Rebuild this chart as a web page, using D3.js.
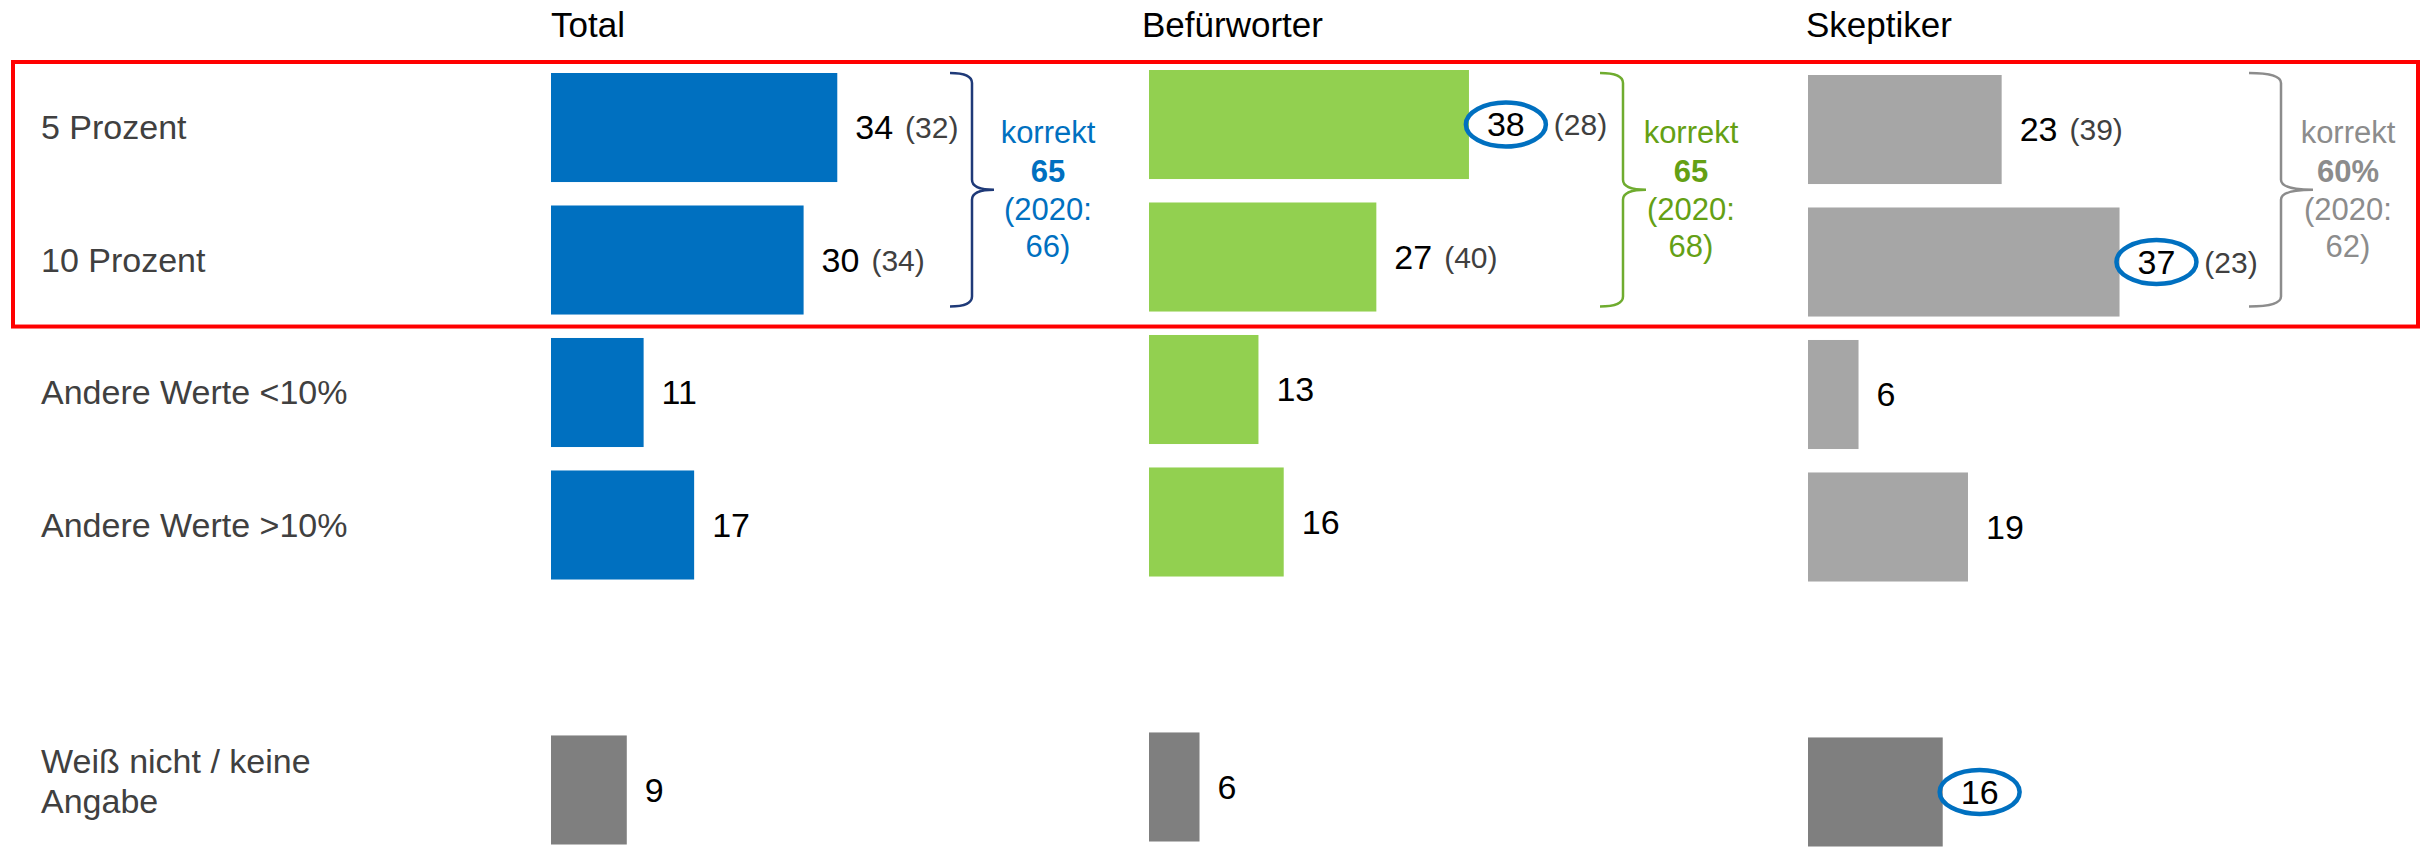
<!DOCTYPE html>
<html>
<head>
<meta charset="utf-8">
<script src="https://cdn.jsdelivr.net/npm/d3@7"></script>
<style>
  body { margin: 0; background: #fff; }
  text { font-family: "Liberation Sans", Arial, sans-serif; }
</style>
</head>
<body>
<div id="chart"></div>
<script>
// data
const categories = ["5 Prozent", "10 Prozent", "Andere Werte <10%", "Andere Werte >10%", "Weiß nicht / keine Angabe"];
const slots = [0, 1, 2, 3, 5]; // one empty slot before "Weiß nicht"
const groups = ["Total", "Befürworter", "Skeptiker"];
const totalValues = [34, 30, 11, 17, 9];
const befuerworterValues = [38, 27, 13, 16, 6];
const skeptikerValues = [23, 37, 6, 19, 16];
const totalPrev = [32, 34];
const befuerworterPrev = [28, 40];
const skeptikerPrev = [39, 23];
const correctShare = ["65", "65", "60%"];
const correct2020 = ["66", "68", "62"];
const circled = [[], ["5 Prozent"], ["10 Prozent", "Weiß nicht / keine Angabe"]];

const seriesValues = [totalValues, befuerworterValues, skeptikerValues];
const seriesPrev = [totalPrev, befuerworterPrev, skeptikerPrev];

// layout
const width = 2433, height = 848;
const colX = [551, 1149, 1808];
const colDy = [0, -3, 2];
const titleX = [551, 1142, 1806];
const bracketX = [972, 1623, 2281];
const bracketW = [22, 23, 32];
const noteX = [1048, 1691, 2348];
const barColors = ["#0070C0", "#92D050", "#A6A6A6"];
const noteColors = ["#0070C0", "#64A014", "#8C8C8C"];
const braceColors = ["#1F3A78", "#6FAC2F", "#8C8C8C"];
const unknownColor = "#7F7F7F";

const svg = d3.select("#chart")
    .append("svg")
    .attr("width", width)
    .attr("height", height);

const x = d3.scaleLinear()
    .domain([0, 100])
    .range([0, 842]);

const y = d3.scaleBand()
    .domain(d3.range(6))
    .range([73, 844.5])
    .paddingInner(0.177);

const bw = y.bandwidth();

// red frame round the first two rows
svg.append("rect")
    .attr("x", 13)
    .attr("y", y(0) - 11)
    .attr("width", 2405)
    .attr("height", y(1) + bw + 12 - (y(0) - 11))
    .attr("fill", "none")
    .attr("stroke", "#FF0000")
    .attr("stroke-width", 4);

// column titles
svg.selectAll(".title")
    .data(groups)
    .enter()
    .append("text")
    .attr("class", "title")
    .attr("x", (d, i) => titleX[i])
    .attr("y", 37)
    .attr("font-size", 35)
    .attr("fill", "#000")
    .text(d => d);

// row labels
categories.forEach((c, i) => {
    const cy = y(slots[i]) + bw / 2;
    const t = svg.append("text")
        .attr("x", 41)
        .attr("font-size", 34)
        .attr("fill", "#404040");
    if (c.indexOf(" / keine ") > 0) {
        t.append("tspan").attr("x", 41).attr("y", cy - 17).text("Weiß nicht / keine");
        t.append("tspan").attr("x", 41).attr("y", cy + 23).text("Angabe");
    } else {
        t.attr("y", cy).attr("dy", "0.35em").text(c);
    }
});

groups.forEach((g, gi) => {
    const vals = seriesValues[gi];
    const prev = seriesPrev[gi];
    const col = svg.append("g")
        .attr("transform", "translate(" + colX[gi] + "," + colDy[gi] + ")");

    col.selectAll("rect")
        .data(categories)
        .enter()
        .append("rect")
        .attr("x", x(0))
        .attr("y", (d, i) => y(slots[i]))
        .attr("width", (d, i) => x(vals[i]))
        .attr("height", bw)
        .attr("fill", (d, i) => i === 4 ? unknownColor : barColors[gi]);

    categories.forEach((c, i) => {
        const cy = y(slots[i]) + bw / 2;
        const lx = x(vals[i]) + 18;
        const lab = col.append("text")
            .attr("x", lx)
            .attr("y", cy)
            .attr("dy", "0.35em")
            .attr("font-size", 34)
            .attr("fill", "#000")
            .text(vals[i]);
        const len = lab.node().getComputedTextLength();
        const isCircled = circled[gi].indexOf(c) >= 0;
        if (isCircled) {
            col.append("ellipse")
                .attr("cx", lx + len / 2)
                .attr("cy", cy)
                .attr("rx", 40)
                .attr("ry", 22)
                .attr("fill", "none")
                .attr("stroke", "#0070C0")
                .attr("stroke-width", 4.5);
        }
        if (i < prev.length) {
            col.append("text")
                .attr("x", lx + len + (isCircled ? 29 : 12))
                .attr("y", cy)
                .attr("dy", "0.35em")
                .attr("font-size", 30)
                .attr("fill", "#404040")
                .text("(" + prev[i] + ")");
        }
    });

    // curly brace for the "korrekt" share
    const xv = bracketX[gi], w = bracketW[gi], r = 10;
    const top = y(0), bottom = y(1) + bw - 8, mid = (top + bottom) / 2;
    const p = d3.path();
    p.moveTo(xv - w, top);
    p.quadraticCurveTo(xv, top, xv, top + r);
    p.lineTo(xv, mid - r);
    p.quadraticCurveTo(xv, mid, xv + w, mid);
    p.quadraticCurveTo(xv, mid, xv, mid + r);
    p.lineTo(xv, bottom - r);
    p.quadraticCurveTo(xv, bottom, xv - w, bottom);
    svg.append("path")
        .attr("d", p.toString())
        .attr("fill", "none")
        .attr("stroke", braceColors[gi])
        .attr("stroke-width", 2.5);

    const note = svg.append("text")
        .attr("text-anchor", "middle")
        .attr("font-size", 31)
        .attr("fill", noteColors[gi]);
    note.append("tspan").attr("x", noteX[gi]).attr("y", mid - 47).text("korrekt");
    note.append("tspan").attr("x", noteX[gi]).attr("y", mid - 8)
        .attr("font-weight", "bold").text(correctShare[gi]);
    note.append("tspan").attr("x", noteX[gi]).attr("y", mid + 30).text("(2020:");
    note.append("tspan").attr("x", noteX[gi]).attr("y", mid + 67).text(correct2020[gi] + ")");
});
</script>
</body>
</html>
